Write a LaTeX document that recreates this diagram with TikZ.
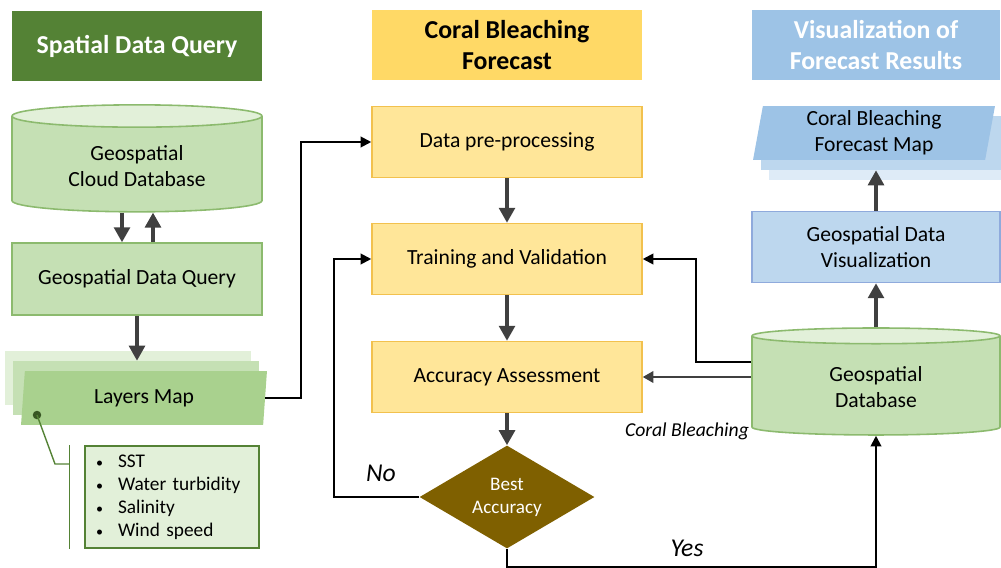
\documentclass[tikz,border=0pt]{standalone}
\usepackage{fontspec}
\setmainfont{Carlito}
\usetikzlibrary{shapes.geometric,arrows.meta}
\definecolor{titlegreen}{HTML}{548235}
\definecolor{titlegold}{HTML}{FFD966}
\definecolor{titleblue}{HTML}{9DC3E6}
\definecolor{gfill}{HTML}{C5E0B4}
\definecolor{gtop}{HTML}{E2F0D9}
\definecolor{gline}{HTML}{8CBA6E}
\definecolor{gfront}{HTML}{A9D18E}
\definecolor{yfill}{HTML}{FFE699}
\definecolor{yline}{HTML}{F2C14E}
\definecolor{bfill}{HTML}{BDD7EE}
\definecolor{bline}{HTML}{8FAADC}
\definecolor{bfront}{HTML}{9DC3E6}
\definecolor{bback}{HTML}{DEEBF7}
\definecolor{dgold}{HTML}{7F6000}
\definecolor{arrgray}{HTML}{404040}
\definecolor{dotgreen}{HTML}{385723}
\newcommand{\bul}{\makebox[0.44cm][l]{\fontsize{8}{8}\selectfont\textbullet}}

\begin{document}
\begin{tikzpicture}[x=0.02cm,y=-0.02cm,
  every node/.style={font=\fontsize{12.3}{14.8}\selectfont,align=center},
  head/.style={rectangle,minimum height=1.42cm,font=\fontsize{14.7}{17.6}\selectfont\bfseries},
  gbox/.style={rectangle,draw=gline,line width=0.9pt,fill=gfill,minimum width=5cm,minimum height=1.44cm},
  ybox/.style={rectangle,draw=yline,line width=0.9pt,fill=yfill,minimum width=5.4cm,minimum height=1.42cm},
  bbox/.style={rectangle,draw=bline,line width=0.9pt,fill=bfill,minimum width=4.96cm,minimum height=1.42cm},
  db/.style={cylinder,shape border rotate=90,draw=gline,line width=0.9pt,cylinder uses custom fill,
    cylinder body fill=gfill,cylinder end fill=gtop,shape aspect=0.15,minimum height=2.14cm},
  maplayer/.style={trapezium,trapezium left angle=77.5,trapezium right angle=102.5,
    trapezium stretches body,minimum height=1.08cm,inner sep=0},
  flow/.style={-{Triangle[width=9pt,length=8.5pt]},line width=1.9pt,draw=arrgray},
  link/.style={-{Triangle[width=6pt,length=6pt]},line width=1.1pt},
  bracket/.style={draw=titlegreen,line width=0.8pt},
  lbl/.style={font=\fontsize{14.6}{16}\selectfont\itshape}]
\useasboundingbox (0,0) rectangle (1001,568);

\node[head,fill=titlegreen,text=white,minimum width=5cm]  (h1) at (137,46)  {Spatial Data Query};
\node[head,fill=titlegold,minimum width=5.4cm]            (h2) at (507,45)  {Coral Bleaching\\Forecast};
\node[head,fill=titleblue,text=white,minimum width=4.96cm] (h3) at (876,45) {Visualization of\\Forecast Results};

\node[db,minimum width=5cm] (cdb)   at (137,166) {Geospatial\\Cloud Database};
\node[gbox]                 (query) at (137,279) {Geospatial Data Query};
\node[maplayer,fill=gtop,minimum width=4.92cm]   (lm3) at (128,378) {};
\node[maplayer,fill=gfill,minimum width=4.92cm]  (lm2) at (136,388) {};
\node[maplayer,fill=gfront,minimum width=4.92cm] (lm)  at (144,398) {Layers Map};
\node[circle,fill=dotgreen,inner sep=0,minimum size=0.17cm] (dot) at (37,415) {};
\node[rectangle,draw=titlegreen,line width=0.6pt,fill=gtop,minimum width=3.48cm,minimum height=2.04cm,
  text width=3.04cm,inner xsep=0.22cm,align=left,font=\fontsize{11}{13.1}\selectfont] (lst) at (172,497)
  {\bul SST\\\bul Water turbidity\\\bul Salinity\\\bul Wind speed};
\coordinate (bend) at (55,464);
\coordinate (brk)  at ([xshift=-0.3cm]lst.west);

\node[ybox] (prep)  at (507,142) {Data pre-processing};
\node[ybox] (train) at (507,259) {Training and Validation};
\node[ybox] (acc)   at (507,377) {Accuracy Assessment};
\node[diamond,aspect=1.7,fill=dgold,text=white,minimum width=3.5cm,minimum height=2.06cm,inner sep=0,
  font=\fontsize{10.9}{13}\selectfont] (dia) at (507,497) {Best\\Accuracy};

\node[maplayer,fill=bback,minimum width=4.84cm]  (fm3) at (890,153) {};
\node[maplayer,fill=bfill,minimum width=4.84cm]  (fm2) at (882,143) {};
\node[maplayer,fill=bfront,minimum width=4.84cm] (fm)  at (874,133) {Coral Bleaching\\Forecast Map};
\node[bbox]                    (vis) at (876,247) {Geospatial Data\\Visualization};
\node[db,minimum width=4.96cm] (gdb) at (876,387) {Geospatial\\Database};

\node[lbl] (no)  at (381,473) {No};
\node[lbl] (yes) at (687,548) {Yes};
\node[font=\fontsize{11.2}{13}\selectfont\itshape] (cb) at (687,431) {Coral Bleaching};

\draw[flow] ([xshift=-0.3cm]cdb.south) -- ([xshift=-0.3cm]query.north);
\draw[flow] ([xshift=0.32cm]query.north) -- ([xshift=0.32cm]cdb.south);
\draw[flow] (query.south) -- (query.south |- lm2.north);
\draw[link] (lm.east) -- ++(36,0) |- (prep.west);
\draw[bracket] (dot.center) -- (bend) -- (bend -| brk);
\draw[bracket] ([xshift=-0.3cm]lst.north west) -- ([xshift=-0.3cm]lst.south west);
\draw[flow] (prep) -- (train);
\draw[flow] (train) -- (acc);
\draw[flow] (acc) -- (dia);
\draw[link] (dia.west) -- ++(-85,0) |- (train.west);
\draw[link] (dia.south) -- ++(0,18) -| (gdb.south);
\draw[link] ([yshift=0.5cm]gdb.west) -- ++(-55,0) |- (train.east);
\draw[flow,line width=1.2pt,-{Triangle[width=6.5pt,length=6pt]}] (gdb.west |- acc.east) -- (acc.east);
\draw[flow] (gdb.north) -- (vis.south);
\draw[flow] (vis.north) -- (vis.north |- fm2.south);
\end{tikzpicture}
\end{document}
